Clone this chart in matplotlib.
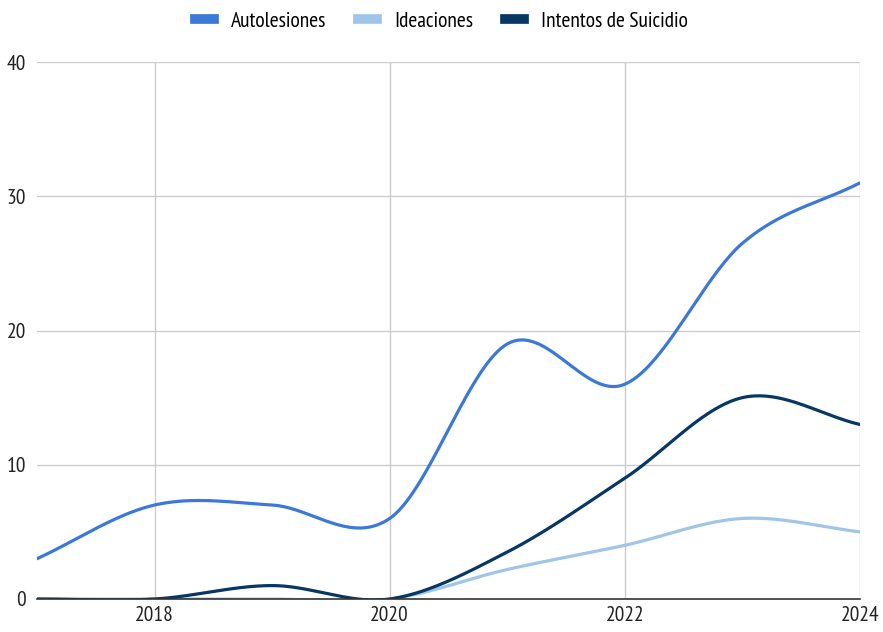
import numpy as np
import matplotlib
matplotlib.use("Agg")
import matplotlib.pyplot as plt

years = [2017, 2018, 2019, 2020, 2021, 2022, 2023, 2024]
autolesiones = [3, 7, 7, 6, 19, 16, 26.5, 31]
ideaciones = [0, 0, 0, 0, 2.2, 4, 6, 5]
intentos = [0, 0, 1, 0, 3.5, 9, 15, 13]
series_names = ["Autolesiones", "Ideaciones", "Intentos de Suicidio"]
colors = ["#3c78d8", "#9fc5e8", "#073763"]
x_ticks = [2018, 2020, 2022, 2024]
y_ticks = [0, 10, 20, 30, 40]

plt.rcParams["font.family"] = ["PT Sans Narrow", "DejaVu Sans"]
plt.rcParams["font.weight"] = "normal"


def smooth(x, y, n=40):
    x = np.asarray(x, float)
    y = np.asarray(y, float)
    m = np.zeros_like(y)
    m[1:-1] = (y[2:] - y[:-2]) / 2.0
    m[0] = y[1] - y[0]
    m[-1] = y[-1] - y[-2]
    xs, ys = [], []
    for i in range(len(x) - 1):
        t = np.linspace(0, 1, n, endpoint=False)
        h00 = 2 * t**3 - 3 * t**2 + 1
        h10 = t**3 - 2 * t**2 + t
        h01 = -2 * t**3 + 3 * t**2
        h11 = t**3 - t**2
        ys.append(h00 * y[i] + h10 * m[i] + h01 * y[i + 1] + h11 * m[i + 1])
        xs.append(x[i] + t * (x[i + 1] - x[i]))
    xs.append([x[-1]])
    ys.append([y[-1]])
    return np.concatenate(xs), np.concatenate(ys)


fig = plt.figure(figsize=(8.83, 6.32), dpi=100)
ax = fig.add_axes([37 / 883, 1 - 599 / 632, (860 - 37) / 883, (599 - 62) / 632])

for vals, name, c in zip([autolesiones, ideaciones, intentos], series_names, colors):
    sx, sy = smooth(years, vals)
    ax.plot(sx, sy, color=c, lw=2.3, label=name, solid_capstyle="round", zorder=3)

ax.set_xlim(2017, 2024)
ax.set_ylim(0, 40)
ax.set_xticks(x_ticks)
ax.set_yticks(y_ticks)
ax.grid(True, color="#cccccc", lw=1)
ax.set_axisbelow(True)
for s in ["top", "right", "left"]:
    ax.spines[s].set_visible(False)
ax.spines["bottom"].set_color("#333333")
ax.spines["bottom"].set_linewidth(1.2)
ax.spines["bottom"].set_zorder(4)
ax.tick_params(length=0, labelsize=15.5, colors="#222222", pad=8)
ax.tick_params(axis="x", pad=5)

handles = [plt.Line2D([0], [0], color=c, lw=7) for c in colors]
fig.legend(handles, series_names, loc="upper center", bbox_to_anchor=(0.5, 1.012),
           ncol=3, frameon=False, fontsize=15.5, handlelength=0.85, handletextpad=0.8,
           columnspacing=1.5)

fig.savefig("out.png", dpi=100)
